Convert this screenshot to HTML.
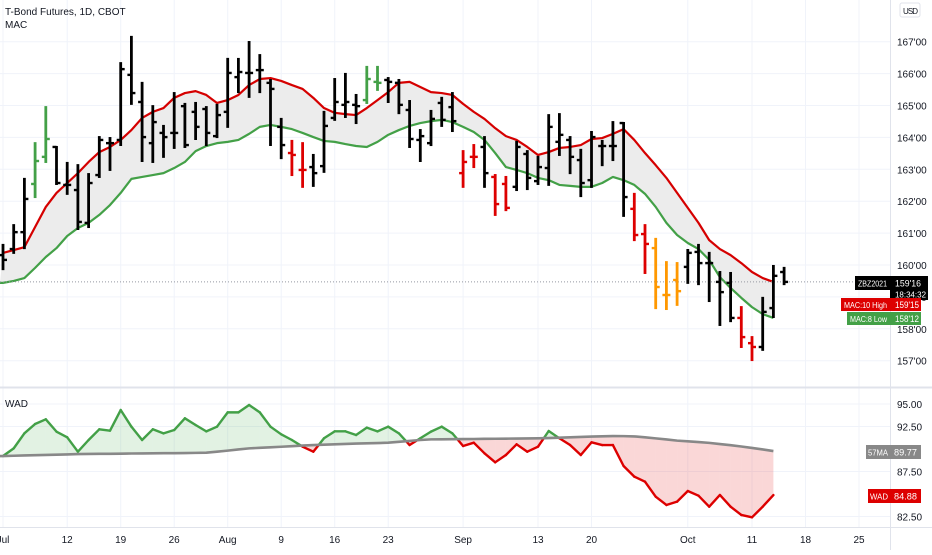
<!DOCTYPE html>
<html><head><meta charset="utf-8">
<style>
html,body{margin:0;padding:0;background:#fff;}
body{width:932px;height:550px;overflow:hidden;font-family:"Liberation Sans",sans-serif;}
svg text{font-family:"Liberation Sans",sans-serif;}
</style></head>
<body>
<svg id="chart" width="932" height="550" xmlns="http://www.w3.org/2000/svg">
<g id="grid"></g>
<g id="pricepane"></g>
<g id="wadpane"></g>
<g id="axes"></g>
</svg>
<script>
const timeLabels = ["Jul","12","19","26","Aug","9","16","23","Sep","13","20","Oct","11","18","25"];
const timeIdx = [0,6,11,16,21,26,31,36,43,50,55,64,70,75,80];
const priceTicks = [157,158,159,160,161,162,163,164,165,166,167];
const priceTickLabels = ["157'00","158'00","159'00","160'00","161'00","162'00","163'00","164'00","165'00","166'00","167'00"];
const wadTicks = [95,92.5,87.5,82.5];
const wadTickLabels = ["95.00","92.50","87.50","82.50"];
const opens = [160.31,160.50,161.03,162.54,163.39,163.70,162.51,162.35,161.32,162.82,163.82,163.92,165.96,165.11,163.82,164.14,164.14,164.98,164.80,164.89,164.04,164.80,165.89,166.02,166.11,165.71,164.33,163.51,162.98,163.07,163.10,164.61,165.02,165.02,165.17,165.74,165.80,165.71,164.86,163.92,163.82,165.08,164.95,162.88,163.39,163.70,162.76,162.54,162.45,163.48,162.63,163.04,163.86,163.92,163.29,162.66,163.73,163.73,164.45,161.76,160.97,160.53,159.06,159.53,159.94,160.41,160.06,159.47,159.44,158.34,157.55,157.43,158.65,159.78];
const highs = [160.63,161.25,162.70,163.82,164.95,163.70,163.20,163.13,162.85,164.01,163.98,166.33,167.15,165.71,164.98,164.36,165.39,165.05,165.08,164.95,165.02,166.46,166.46,166.99,166.58,165.80,164.58,163.89,163.82,163.45,164.80,165.83,165.99,165.33,166.21,166.21,165.86,165.80,165.14,164.23,164.83,165.24,165.39,163.57,163.76,164.01,162.82,162.76,163.86,163.57,163.39,164.70,164.73,164.01,163.61,164.17,163.89,164.48,164.45,162.23,161.25,160.82,160.09,160.06,160.47,160.63,160.38,159.78,159.75,158.68,157.74,158.97,159.97,159.91];
const lows = [159.87,160.38,160.53,162.13,163.23,162.54,162.23,161.13,161.19,162.76,162.98,163.76,165.05,163.26,163.23,163.39,163.67,163.70,163.95,163.76,164.01,164.33,165.42,165.27,165.42,163.76,163.35,162.82,162.45,162.48,162.92,164.55,164.64,164.45,165.08,165.49,165.11,164.76,163.70,163.26,163.76,164.36,164.20,162.45,163.07,162.45,161.57,161.72,162.35,162.38,162.54,162.51,163.45,162.88,162.16,162.45,163.13,163.29,161.54,160.78,159.75,158.65,158.62,158.75,159.44,159.40,158.87,158.12,158.24,157.43,157.02,157.34,158.37,159.40];
const closes = [160.16,161.03,162.07,163.26,163.95,162.57,162.51,161.35,162.57,163.92,163.82,166.14,165.39,164.01,164.48,164.01,164.14,163.76,164.33,164.14,164.70,166.02,166.05,166.02,166.11,165.52,163.76,163.45,162.98,162.88,164.36,165.11,165.11,164.98,165.83,165.71,165.74,165.02,163.95,164.04,164.58,164.55,164.51,163.23,163.39,162.88,161.91,161.79,163.70,162.73,163.07,164.33,164.08,163.39,162.57,164.01,163.73,163.73,162.13,160.94,160.66,159.31,159.06,159.18,160.38,160.06,160.06,159.15,158.34,157.74,157.43,158.53,159.66,159.47];
const bullBars = [3,4,34,35];
const bearBars = [27,28,43,44,46,47,59,60,69,70];
const climaxBars = [61,62,63];
const macHigh = [160.38,160.47,160.56,161.19,161.82,162.26,162.57,162.88,163.23,163.54,163.70,163.92,164.23,164.61,164.80,164.92,165.24,165.39,165.45,165.33,165.08,165.17,165.33,165.64,165.83,165.86,165.77,165.64,165.52,165.24,164.92,164.77,164.73,164.70,164.92,165.17,165.42,165.71,165.74,165.58,165.42,165.39,165.33,165.05,164.80,164.58,164.29,164.04,163.92,163.70,163.45,163.54,163.67,163.70,163.76,163.95,163.98,164.11,164.26,163.92,163.51,163.13,162.73,162.26,161.79,161.32,160.78,160.50,160.31,160.06,159.78,159.59,159.47];
const macLow = [159.44,159.50,159.59,159.91,160.25,160.53,160.91,161.16,161.32,161.57,161.88,162.26,162.70,162.76,162.82,162.88,163.04,163.23,163.57,163.73,163.82,163.86,163.92,164.11,164.33,164.39,164.33,164.26,164.14,164.01,163.89,163.86,163.79,163.73,163.70,163.86,164.08,164.23,164.36,164.45,164.51,164.55,164.48,164.33,164.17,163.92,163.51,163.07,162.98,162.88,162.73,162.66,162.51,162.48,162.45,162.45,162.57,162.76,162.66,162.51,162.23,161.82,161.32,160.94,160.69,160.50,160.16,159.62,159.28,158.97,158.68,158.46,158.34];
const wad = [89.22,90.07,91.74,92.78,93.30,91.93,91.30,89.70,91.00,92.19,92.04,94.33,92.48,91.00,92.19,91.74,92.11,93.41,92.67,91.96,92.48,94.07,94.07,94.89,94.07,92.48,91.63,91.00,90.26,89.70,91.19,91.96,91.96,91.56,92.37,91.96,92.48,91.74,90.44,91.19,91.93,92.48,91.74,90.33,90.70,89.52,88.52,89.33,90.52,89.70,90.26,92.00,91.19,90.44,89.33,90.74,90.44,90.44,88.11,86.93,86.37,84.70,83.78,84.15,85.33,84.81,83.59,84.89,83.59,82.67,82.41,83.59,84.88];
const wadMA = [89.22,89.25,89.28,89.31,89.34,89.37,89.40,89.44,89.45,89.46,89.47,89.48,89.50,89.51,89.52,89.53,89.54,89.55,89.57,89.59,89.70,89.82,89.95,90.07,90.13,90.19,90.25,90.31,90.38,90.44,90.48,90.52,90.56,90.60,90.63,90.66,90.70,90.80,90.90,91.00,91.07,91.08,91.09,91.10,91.11,91.13,91.14,91.15,91.16,91.17,91.19,91.22,91.26,91.30,91.34,91.38,91.41,91.44,91.43,91.40,91.30,91.18,91.06,90.93,90.85,90.77,90.68,90.55,90.42,90.28,90.12,89.95,89.77];

const NS="http://www.w3.org/2000/svg";
function xB(i){return 3+i*10.7;}
function yP(p){return 265-(p-160)*31.9;}
function yW(v){return 404+(95-v)*9.0;}
function mk(tag,attrs,parent){const e=document.createElementNS(NS,tag);for(const k in attrs)e.setAttribute(k,attrs[k]);parent.appendChild(e);return e;}
const grid=document.getElementById('grid'),pp=document.getElementById('pricepane'),wp=document.getElementById('wadpane'),ax=document.getElementById('axes');
function barColor(i){if(bullBars.includes(i))return "#43a047";if(bearBars.includes(i))return "#dd0000";if(climaxBars.includes(i))return "#ff9800";return "#000000";}

timeIdx.forEach((ti,k)=>{const l=mk('line',{x1:xB(ti),x2:xB(ti),y1:0,y2:527,stroke:"#f0f3fa","stroke-width":1},grid);

});
priceTicks.forEach(p=>{const l=mk('line',{x1:0,x2:890,y1:yP(p),y2:yP(p),stroke:"#f0f3fa","stroke-width":1},grid);

});
wadTicks.forEach(v=>{const l=mk('line',{x1:0,x2:890,y1:yW(v),y2:yW(v),stroke:"#f0f3fa","stroke-width":1},grid);

});

let d="M"+macHigh.map((v,i)=>xB(i)+","+yP(v)).join(" L");
for(let i=macLow.length-1;i>=0;i--)d+=" L"+xB(i)+","+yP(macLow[i]);
d+=" L0,"+yP(macLow[0])+" Z";
const band=mk('path',{d:d,fill:"#ececec"},pp);


const hiL=mk('polyline',{points:macHigh.map((v,i)=>xB(i)+","+yP(v)).join(" "),fill:"none",stroke:"#d50000","stroke-width":2.2,"stroke-linejoin":"round"},pp);


const loL=mk('polyline',{points:"0,"+yP(macLow[0])+" "+macLow.map((v,i)=>xB(i)+","+yP(v)).join(" "),fill:"none",stroke:"#43a047","stroke-width":2.2,"stroke-linejoin":"round"},pp);



const lastY=yP(closes[closes.length-1]);
const dl=mk('line',{x1:0,x2:855,y1:lastY,y2:lastY,stroke:"#9598a1","stroke-width":1,"stroke-dasharray":"1,2"},pp);



for(let i=0;i<opens.length;i++){
  const g=mk('g',{stroke:barColor(i)},pp);
  
  
  const x=xB(i);
  mk('line',{x1:x,x2:x,y1:yP(highs[i])-1,y2:yP(lows[i])+1,"stroke-width":2.8},g);
  mk('line',{x1:x-4,x2:x,y1:yP(opens[i]),y2:yP(opens[i]),"stroke-width":2.4},g);
  mk('line',{x1:x,x2:x+4,y1:yP(closes[i]),y2:yP(closes[i]),"stroke-width":2.4},g);
}

function seg(x0,a0,m0,x1,a1,m1){
  const up=(a0+a1)/2>=(m0+m1)/2;
  const col=up?"#43a047":"#dd0000", fc=up?"rgba(76,175,80,0.16)":"rgba(229,57,53,0.2)";
  const f=mk('polygon',{points:`${x0},${yW(a0)} ${x1},${yW(a1)} ${x1},${yW(m1)} ${x0},${yW(m0)}`,fill:fc,stroke:"none"},wp);
  
  
  const l=mk('line',{x1:x0,y1:yW(a0),x2:x1,y2:yW(a1),stroke:col,"stroke-width":2.4,"stroke-linecap":"round"},wp);
  
  
}
for(let i=0;i<wad.length-1;i++){
  const d0=wad[i]-wadMA[i],d1=wad[i+1]-wadMA[i+1];
  if(d0*d1<0){const t=d0/(d0-d1);const xm=xB(i)+t*10.7,wm=wad[i]+t*(wad[i+1]-wad[i]);
    seg(xB(i),wad[i],wadMA[i],xm,wm,wm);seg(xm,wm,wm,xB(i+1),wad[i+1],wadMA[i+1]);}
  else seg(xB(i),wad[i],wadMA[i],xB(i+1),wad[i+1],wadMA[i+1]);
}
const maL=mk('polyline',{points:"0,"+yW(wadMA[0])+" "+wadMA.map((v,i)=>xB(i)+","+yW(v)).join(" "),fill:"none",stroke:"#888888","stroke-width":2.6},wp);



function txt(x,y,s,attrs,parent,name){const t=mk('text',Object.assign({x:x,y:y,"font-size":10,fill:"#131722"},attrs||{}),parent);t.textContent=s;

return t;}
priceTicks.forEach((p,k)=>txt(897,yP(p)+4,priceTickLabels[k],{},ax,'price-tick-label'));
wadTicks.forEach((v,k)=>txt(897,yW(v)+4,wadTickLabels[k],{},ax,'wad-tick-label'));
timeIdx.forEach((ti,k)=>txt(xB(ti),543,timeLabels[k],{"text-anchor":"middle"},ax,'time-tick-label'));
</script>
<svg style="position:absolute;left:0;top:0" width="932" height="550" xmlns="http://www.w3.org/2000/svg">
<line x1="890.5" y1="0" x2="890.5" y2="550" stroke="#e0e3eb"/>
<line x1="0" y1="387.5" x2="932" y2="387.5" stroke="#e0e3eb" stroke-width="2"/>
<line x1="0" y1="527.5" x2="932" y2="527.5" stroke="#e0e3eb"/>
<text x="5" y="15" font-size="10" fill="#131722">T-Bond Futures, 1D, CBOT</text>
<text x="5" y="28" font-size="10" fill="#131722">MAC</text>
<text x="5" y="407" font-size="10" fill="#131722">WAD</text>
<rect x="900" y="3" width="20" height="14" rx="2" fill="#fff" stroke="#e0e3eb"/>
<text x="903" y="14" font-size="8" fill="#131722" textLength="15">USD</text>
<rect x="855" y="276" width="35" height="14" fill="#000"/>
<text x="858" y="286.5" font-size="8.5" fill="#fff" textLength="29" lengthAdjust="spacingAndGlyphs">ZBZ2021</text>
<rect x="890" y="276" width="38" height="24" fill="#000"/>
<text x="895" y="286.5" font-size="9.5" fill="#fff" textLength="26" lengthAdjust="spacingAndGlyphs">159'16</text>
<text x="895" y="297.5" font-size="8.5" fill="#fff" textLength="31" lengthAdjust="spacingAndGlyphs">18:34:32</text>
<rect x="841" y="298" width="49" height="13" fill="#dd0000"/>
<text x="844" y="308" font-size="8.5" fill="#fff" textLength="43" lengthAdjust="spacingAndGlyphs">MAC:10 High</text>
<rect x="890" y="298" width="31" height="13" fill="#dd0000"/>
<text x="895" y="308" font-size="9.5" fill="#fff" textLength="24" lengthAdjust="spacingAndGlyphs">159'15</text>
<rect x="847" y="312" width="43" height="13" fill="#43a047"/>
<text x="850" y="322" font-size="8.5" fill="#fff" textLength="37" lengthAdjust="spacingAndGlyphs">MAC:8 Low</text>
<rect x="890" y="312" width="31" height="13" fill="#43a047"/>
<text x="895" y="322" font-size="9.5" fill="#fff" textLength="24" lengthAdjust="spacingAndGlyphs">158'12</text>
<rect x="866" y="445" width="24" height="14" fill="#888"/>
<text x="868" y="455.5" font-size="8.5" fill="#fff" textLength="20" lengthAdjust="spacingAndGlyphs">57MA</text>
<rect x="890" y="445" width="31" height="14" fill="#888"/>
<text x="894" y="455.5" font-size="9.5" fill="#fff" textLength="23" lengthAdjust="spacingAndGlyphs">89.77</text>
<rect x="868" y="489" width="22" height="14" fill="#dd0000"/>
<text x="870" y="499.5" font-size="8.5" fill="#fff" textLength="18" lengthAdjust="spacingAndGlyphs">WAD</text>
<rect x="890" y="489" width="31" height="14" fill="#dd0000"/>
<text x="894" y="499.5" font-size="9.5" fill="#fff" textLength="23" lengthAdjust="spacingAndGlyphs">84.88</text>
</svg>
</body></html>
